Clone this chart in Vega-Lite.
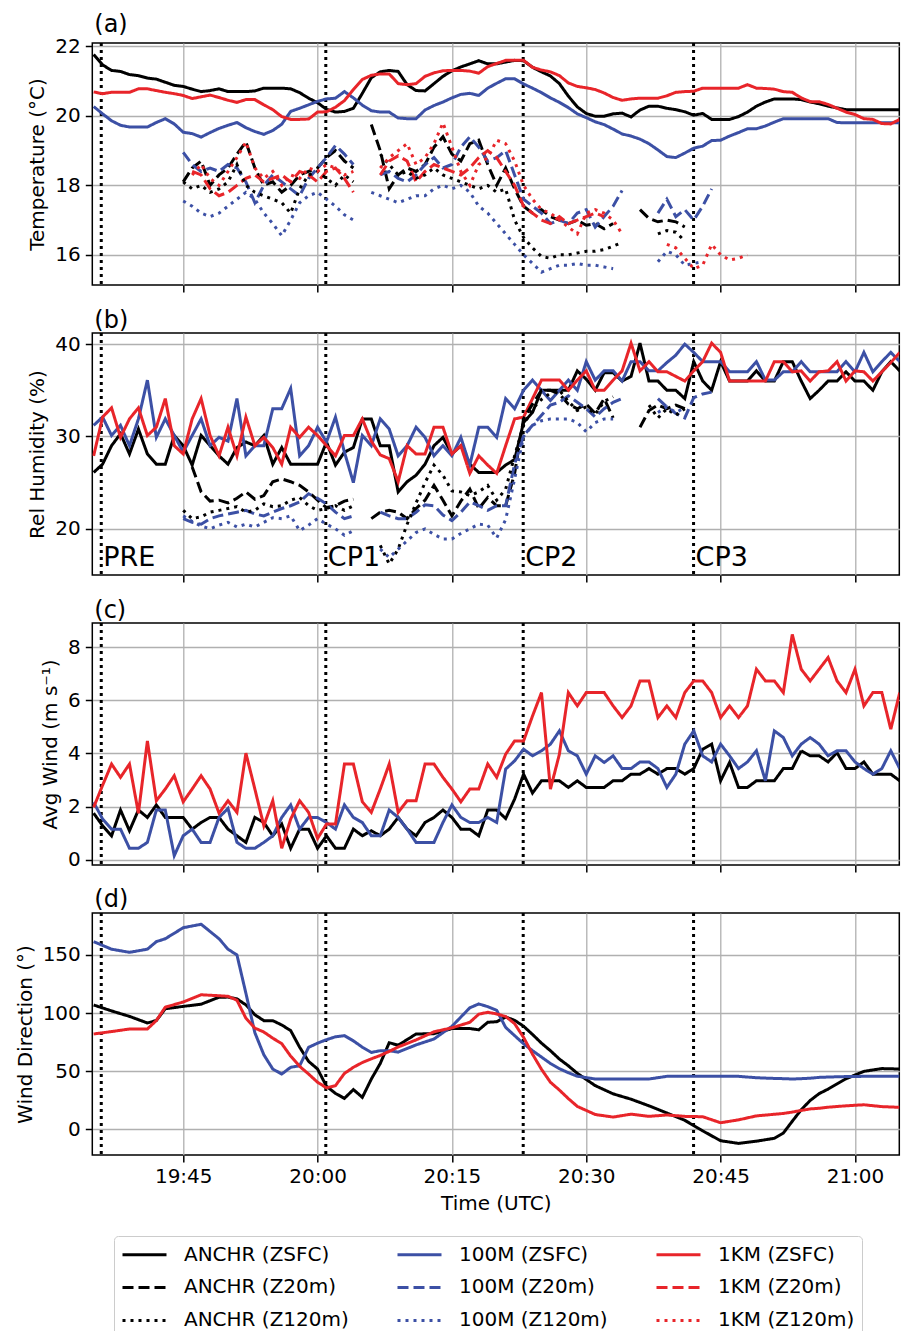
{
"$schema": "https://vega.github.io/schema/vega-lite/v6.json",
"background": "white",
"padding": {"left": 14.3, "top": 12, "right": 5, "bottom": 0},
"bounds": "flush",
"spacing": 48,
"datasets": {
"names": [{"k":"A","s":"ANCHR (ZSFC)"},{"k":"B","s":"100M (ZSFC)"},{"k":"C","s":"1KM (ZSFC)"},{"k":"A2","s":"ANCHR (Z20m)"},{"k":"B2","s":"100M (Z20m)"},{"k":"C2","s":"1KM (Z20m)"},{"k":"A1","s":"ANCHR (Z120m)"},{"k":"B1","s":"100M (Z120m)"},{"k":"C1","s":"1KM (Z120m)"}],
"marks": [{"t":35.85,"lab":"PRE"},{"t":60.92,"lab":"CP1"},{"t":82.96,"lab":"CP2"},{"t":101.98,"lab":"CP3"}],
"ta": [
{"t":35,"A":21.77,"B":20.27,"C":20.69},
{"t":36,"A":21.47,"B":20.06,"C":20.64},
{"t":37,"A":21.31,"B":19.86,"C":20.68},
{"t":38,"A":21.28,"B":19.73,"C":20.68},
{"t":39,"A":21.19,"B":19.68,"C":20.68},
{"t":40,"A":21.16,"B":19.68,"C":20.78},
{"t":41,"A":21.09,"B":19.68,"C":20.78},
{"t":42,"A":21.06,"B":19.81,"C":20.73},
{"t":43,"A":20.97,"B":19.92,"C":20.68},
{"t":44,"A":20.88,"B":19.77,"C":20.64},
{"t":45,"A":20.85,"B":19.53,"C":20.59,"A2":18.1,"A1":18.1,"B2":18.95,"B1":17.55},
{"t":46,"A":20.77,"B":19.49,"C":20.5,"A2":18.5,"A1":17.9,"B2":18.6,"B1":17.4,"C2":18.4,"C1":18.3},
{"t":47,"A":20.7,"B":19.39,"C":20.55,"A2":18.7,"A1":18.0,"B2":18.4,"B1":17.2,"C2":18.3,"C1":18.6},
{"t":48,"A":20.73,"B":19.52,"C":20.6,"A2":18.0,"A1":17.8,"B2":18.5,"B1":17.1,"C2":17.9,"C1":18.2},
{"t":49,"A":20.78,"B":19.64,"C":20.53,"A2":18.3,"A1":17.9,"B2":18.4,"B1":17.2,"C2":17.7,"C1":18.0},
{"t":50,"A":20.7,"B":19.73,"C":20.45,"A2":18.5,"A1":18.1,"B2":18.6,"B1":17.4,"C2":17.8,"C1":18.4},
{"t":51,"A":20.7,"B":19.81,"C":20.39,"A2":18.9,"A1":18.6,"B2":18.5,"B1":17.6,"C2":18.0,"C1":18.8},
{"t":52,"A":20.7,"B":19.66,"C":20.47,"A2":19.25,"A1":18.0,"B2":18.1,"B1":17.8,"C2":18.2,"C1":19.25},
{"t":53,"A":20.72,"B":19.55,"C":20.47,"A2":18.5,"A1":17.8,"B2":17.5,"B1":17.6,"C2":18.3,"C1":18.5},
{"t":54,"A":20.8,"B":19.47,"C":20.32,"A2":18.0,"A1":17.7,"B2":18.0,"B1":17.2,"C2":18.1,"C1":18.2},
{"t":55,"A":20.8,"B":19.58,"C":20.18,"A2":18.1,"A1":17.6,"B2":18.3,"B1":16.9,"C2":18.2,"C1":18.4},
{"t":56,"A":20.8,"B":19.76,"C":19.98,"A2":17.8,"A1":17.5,"B2":18.1,"B1":16.55,"C2":18.3,"C1":18.0},
{"t":57,"A":20.78,"B":20.13,"C":19.9,"A2":18.0,"A1":17.2,"B2":17.9,"B1":17.0,"C2":18.1,"C1":18.3},
{"t":58,"A":20.67,"B":20.22,"C":19.9,"A2":18.3,"A1":17.9,"B2":17.7,"B1":17.5,"C2":18.4,"C1":18.2},
{"t":59,"A":20.51,"B":20.32,"C":19.91,"A2":18.4,"A1":18.3,"B2":18.2,"B1":17.7,"C2":18.3,"C1":18.5},
{"t":60,"A":20.38,"B":20.42,"C":20.11,"A2":18.5,"A1":18.4,"B2":18.5,"B1":17.8,"C2":18.1,"C1":18.4},
{"t":61,"A":20.19,"B":20.49,"C":20.12,"A2":18.8,"A1":18.2,"B2":18.8,"B1":17.6,"C2":18.4,"C1":18.6},
{"t":62,"A":20.11,"B":20.51,"C":20.25,"A2":19.0,"A1":18.0,"B2":19.15,"B1":17.4,"C2":18.5,"C1":18.5},
{"t":63,"A":20.13,"B":20.7,"C":20.44,"A2":18.7,"A1":18.3,"B2":18.9,"B1":17.15,"C2":18.2,"C1":18.3},
{"t":64,"A":20.22,"B":20.52,"C":20.76,"A2":18.5,"A1":18.1,"B2":18.6,"B1":17.0,"C2":17.8,"C1":18.4},
{"t":65,"A":20.65,"B":20.31,"C":21.05},
{"t":66,"A":21.1,"B":20.15,"C":21.17,"A2":19.75,"B1":17.8},
{"t":67,"A":21.27,"B":20.11,"C":21.21,"A2":19.0,"A1":18.9,"B2":18.3,"B1":17.7,"C2":18.3,"C1":18.5},
{"t":68,"A":21.31,"B":20.11,"C":21.21,"A2":17.9,"A1":18.6,"B2":18.4,"B1":17.6,"C2":18.7,"C1":18.8},
{"t":69,"A":21.28,"B":19.94,"C":20.93,"A2":18.3,"A1":18.3,"B2":18.2,"B1":17.5,"C2":18.85,"C1":19.0},
{"t":70,"A":20.9,"B":19.92,"C":20.9,"A2":18.5,"A1":18.4,"B2":18.1,"B1":17.6,"C2":18.7,"C1":19.2},
{"t":71,"A":20.73,"B":19.92,"C":20.93,"A2":18.4,"A1":18.2,"B2":18.3,"B1":17.7,"C2":18.1,"C1":18.6},
{"t":72,"A":20.72,"B":20.17,"C":21.14,"A2":18.6,"A1":18.3,"B2":18.6,"B1":17.7,"C2":18.4,"C1":18.8},
{"t":73,"A":20.93,"B":20.3,"C":21.24,"A2":19.1,"A1":18.5,"B2":18.8,"B1":17.9,"C2":18.6,"C1":19.2},
{"t":74,"A":21.14,"B":20.4,"C":21.3,"A2":19.4,"A1":18.3,"B2":18.5,"B1":18.0,"C2":18.5,"C1":19.8},
{"t":75,"A":21.3,"B":20.52,"C":21.31,"A2":18.9,"A1":18.2,"B2":18.6,"B1":17.9,"C2":18.4,"C1":19.1},
{"t":76,"A":21.41,"B":20.62,"C":21.31,"A2":18.7,"A1":18.1,"B2":19.1,"B1":18.0,"C2":18.3,"C1":18.4},
{"t":77,"A":21.5,"B":20.65,"C":21.29,"A2":19.2,"A1":18.0,"B2":19.4,"B1":17.8,"C2":18.5,"C1":18.0},
{"t":78,"A":21.59,"B":20.59,"C":21.23,"A2":19.3,"A1":17.9,"B2":19.1,"B1":17.4,"C2":18.8,"C1":18.6},
{"t":79,"A":21.5,"B":20.8,"C":21.42,"A2":18.6,"A1":18.0,"B2":18.7,"B1":17.2,"C2":19.0,"C1":18.8},
{"t":80,"A":21.5,"B":20.94,"C":21.51,"A2":18.0,"A1":17.8,"B2":18.8,"B1":16.9,"C2":18.8,"C1":19.3},
{"t":81,"A":21.55,"B":21.07,"C":21.6,"A2":18.5,"A1":17.9,"B2":19.0,"B1":16.6,"C2":18.4,"C1":19.2},
{"t":82,"A":21.6,"B":21.07,"C":21.6,"A2":17.9,"A1":17.0,"B2":18.3,"B1":16.3,"C2":18.0,"C1":18.7},
{"t":83,"A":21.59,"B":20.92,"C":21.6,"A2":17.4,"A1":16.5,"B2":17.6,"B1":16.0,"C2":17.4,"C1":18.0},
{"t":84,"A":21.4,"B":20.8,"C":21.4,"A2":17.2,"A1":16.2,"B2":17.4,"B1":15.75,"C2":17.2,"C1":17.6},
{"t":85,"A":21.27,"B":20.67,"C":21.32,"A2":17.3,"A1":15.95,"B2":17.2,"B1":15.5,"C2":17.0,"C1":17.3},
{"t":86,"A":21.15,"B":20.52,"C":21.27,"A2":17.1,"A1":15.9,"B2":16.9,"B1":15.6,"C2":16.9,"C1":17.2},
{"t":87,"A":20.93,"B":20.39,"C":21.16,"A2":17.0,"A1":16.0,"B2":17.0,"B1":15.7,"C2":17.1,"C1":17.0},
{"t":88,"A":20.57,"B":20.24,"C":20.95,"A2":16.9,"A1":16.0,"B2":16.9,"B1":15.7,"C2":16.9,"C1":16.8},
{"t":89,"A":20.26,"B":20.06,"C":20.85,"A2":17.0,"A1":16.05,"B2":17.2,"B1":15.75,"C2":17.0,"C1":16.6},
{"t":90,"A":20.07,"B":19.95,"C":20.81,"A2":16.85,"A1":16.1,"B2":17.3,"B1":15.7,"C2":17.1,"C1":17.2},
{"t":91,"A":19.99,"B":19.83,"C":20.76,"A2":16.9,"A1":16.1,"B2":16.8,"B1":15.7,"C2":17.2,"C1":17.3},
{"t":92,"A":19.99,"B":19.75,"C":20.66,"A2":16.75,"A1":16.15,"B2":17.1,"B1":15.65,"C2":17.1,"C1":17.2},
{"t":93,"A":20.06,"B":19.62,"C":20.53,"A2":16.9,"A1":16.25,"B2":17.4,"B1":15.6,"C1":17.0},
{"t":94,"A":20.08,"B":19.48,"C":20.45,"A1":16.35,"B2":17.85,"C1":16.6},
{"t":95,"A":19.97,"B":19.42,"C":20.49},
{"t":96,"A":20.17,"B":19.33,"C":20.51,"A2":17.3},
{"t":97,"A":20.28,"B":19.2,"C":20.51,"A2":17.05},
{"t":98,"A":20.28,"B":19.02,"C":20.51,"A2":16.95,"A1":16.6,"B2":17.2,"B1":15.8},
{"t":99,"A":20.22,"B":18.83,"C":20.58,"A2":17.0,"A1":16.7,"B2":17.6,"B1":16.1,"C1":16.3},
{"t":100,"A":20.18,"B":18.8,"C":20.68,"A2":16.95,"A1":16.65,"B2":17.1,"B1":16.0,"C1":16.2},
{"t":101,"A":20.12,"B":18.93,"C":20.7,"A2":16.8,"A1":16.4,"B2":17.3,"B1":15.7,"C1":15.9},
{"t":102,"A":20.02,"B":19.07,"C":20.71,"B2":17.0,"B1":15.75,"C1":15.6},
{"t":103,"A":20.07,"B":19.13,"C":20.8,"B2":17.4,"B1":15.8,"C1":15.7},
{"t":104,"A":19.9,"B":19.29,"C":20.8,"B2":17.9,"C1":16.3},
{"t":105,"A":19.9,"B":19.3,"C":20.8,"C1":16.0},
{"t":106,"A":19.9,"B":19.42,"C":20.8,"C1":15.85},
{"t":107,"A":19.98,"B":19.52,"C":20.8,"C1":15.9},
{"t":108,"A":20.11,"B":19.63,"C":20.9,"C1":16.0},
{"t":109,"A":20.28,"B":19.63,"C":20.8},
{"t":110,"A":20.4,"B":19.71,"C":20.79},
{"t":111,"A":20.49,"B":19.82,"C":20.77},
{"t":112,"A":20.49,"B":19.92,"C":20.7},
{"t":113,"A":20.49,"B":19.92,"C":20.68},
{"t":114,"A":20.47,"B":19.92,"C":20.52},
{"t":115,"A":20.4,"B":19.92,"C":20.41},
{"t":116,"A":20.35,"B":19.92,"C":20.41},
{"t":117,"A":20.28,"B":19.92,"C":20.33},
{"t":118,"A":20.23,"B":19.81,"C":20.22},
{"t":119,"A":20.18,"B":19.8,"C":20.11},
{"t":120,"A":20.18,"B":19.8,"C":20.04},
{"t":121,"A":20.18,"B":19.8,"C":19.92},
{"t":122,"A":20.18,"B":19.8,"C":19.9},
{"t":123,"A":20.18,"B":19.8,"C":19.78},
{"t":124,"A":20.18,"B":19.8,"C":19.77},
{"t":125,"A":20.18,"B":19.8,"C":19.9}
],
"rh": [
{"t":35,"A":26.1,"B":31.2,"C":27.9},
{"t":36,"A":27.0,"B":32.1,"C":32.1},
{"t":37,"A":29.0,"B":30.1,"C":33.1},
{"t":38,"A":30.3,"B":31.2,"C":29.9},
{"t":39,"A":28.1,"B":29.0,"C":31.9},
{"t":40,"A":30.8,"B":31.9,"C":33.1},
{"t":41,"A":28.1,"B":36.1,"C":30.1},
{"t":42,"A":27.0,"B":29.9,"C":31.0},
{"t":43,"A":27.0,"B":31.9,"C":34.1},
{"t":44,"A":30.1,"B":30.1,"C":29.0},
{"t":45,"A":29.0,"B":28.3,"C":28.1,"A1":22.0,"B2":21.1,"B1":21.4},
{"t":46,"A":26.9,"B":30.1,"C":31.9,"A2":26.7,"A1":21.1,"B2":20.7,"B1":20.8},
{"t":47,"A":30.1,"B":31.9,"C":34.1,"A2":24.0,"A1":21.3,"B2":20.5,"B1":20.3},
{"t":48,"A":29.0,"B":29.0,"C":30.1,"A2":23.0,"A1":21.8,"B2":21.1,"B1":20.0},
{"t":49,"A":27.9,"B":29.9,"C":27.9,"A2":23.1,"A1":22.0,"B2":21.4,"B1":20.4},
{"t":50,"A":27.0,"B":29.5,"C":31.0,"A2":22.8,"A1":22.2,"B2":21.6,"B1":20.7},
{"t":51,"A":28.8,"B":34.1,"C":27.9,"A2":23.3,"A1":22.4,"B2":21.8,"B1":20.2},
{"t":52,"A":29.4,"B":27.9,"C":32.1,"A2":24.0,"A1":21.8,"B2":22.0,"B1":20.5},
{"t":53,"A":29.0,"B":29.0,"C":29.0,"A2":23.2,"A1":22.0,"B2":21.6,"B1":20.2},
{"t":54,"A":30.1,"B":29.0,"C":29.9,"A2":23.6,"A1":22.7,"B2":21.4,"B1":20.7},
{"t":55,"A":27.0,"B":33.0,"C":28.8,"A2":25.1,"A1":22.4,"B2":21.8,"B1":21.2},
{"t":56,"A":28.8,"B":33.0,"C":27.0,"A2":25.4,"A1":22.5,"B2":22.2,"B1":21.1},
{"t":57,"A":27.0,"B":35.2,"C":31.0,"A2":25.1,"A1":23.1,"B2":22.5,"B1":21.4},
{"t":58,"A":27.0,"B":27.9,"C":29.9,"A2":24.7,"A1":23.4,"B2":22.9,"B1":19.8},
{"t":59,"A":27.0,"B":29.0,"C":31.0,"A2":24.0,"A1":22.5,"B2":23.8,"B1":20.4},
{"t":60,"A":27.0,"B":31.0,"C":30.1,"A2":23.1,"A1":22.0,"B2":23.3,"B1":21.1},
{"t":61,"A":29.4,"B":29.4,"C":29.0,"A2":22.3,"A1":22.2,"B2":22.7,"B1":20.5},
{"t":62,"A":26.9,"B":32.1,"C":27.9,"A2":22.5,"A1":22.5,"B2":21.8,"B1":20.0},
{"t":63,"A":28.3,"B":28.3,"C":30.1,"A2":23.0,"A1":22.0,"B2":21.1,"B1":19.3},
{"t":64,"A":28.8,"B":25.0,"C":30.1,"A2":23.2,"A1":22.5,"B2":21.4,"B1":19.8},
{"t":65,"A":31.9,"B":30.1,"C":31.9},
{"t":66,"A":31.9,"B":29.0,"C":29.5,"A2":21.1},
{"t":67,"A":29.0,"B":31.9,"C":28.0,"A2":21.8,"A1":18.2,"B2":21.8,"B1":17.8},
{"t":68,"A":29.0,"B":30.8,"C":27.6,"A2":22.0,"A1":16.2,"B2":21.4,"B1":16.9},
{"t":69,"A":24.0,"B":27.9,"C":25.1,"A2":21.8,"A1":17.8,"B2":21.1,"B1":17.8},
{"t":70,"A":25.1,"B":29.0,"C":29.0,"A2":21.1,"A1":20.5,"B2":21.1,"B1":18.7},
{"t":71,"A":25.8,"B":31.0,"C":28.1,"A2":22.2,"A1":22.8,"B2":21.8,"B1":19.6},
{"t":72,"A":27.0,"B":29.9,"C":28.1,"A2":23.1,"A1":25.0,"B2":22.6,"B1":20.0},
{"t":73,"A":29.0,"B":27.9,"C":31.0,"A2":24.7,"A1":26.9,"B2":22.5,"B1":19.4},
{"t":74,"A":29.9,"B":29.0,"C":31.0,"A2":23.1,"A1":25.8,"B2":21.5,"B1":18.9},
{"t":75,"A":28.1,"B":27.9,"C":28.1,"A2":21.4,"A1":24.1,"B2":20.9,"B1":18.9},
{"t":76,"A":29.0,"B":29.9,"C":29.0,"A2":23.0,"A1":24.0,"B2":21.8,"B1":19.5},
{"t":77,"A":27.0,"B":26.9,"C":26.0,"A2":24.3,"A1":23.6,"B2":22.9,"B1":20.0},
{"t":78,"A":26.1,"B":31.0,"C":27.9,"A2":22.2,"A1":24.0,"B2":22.5,"B1":20.5},
{"t":79,"A":26.1,"B":31.0,"C":26.9,"A2":23.4,"A1":24.7,"B2":22.0,"B1":20.4},
{"t":80,"A":26.1,"B":29.9,"C":26.0,"A2":22.5,"A1":23.1,"B2":22.5,"B1":19.0},
{"t":81,"A":26.9,"B":34.1,"C":29.0,"A2":22.5,"A1":24.3,"B2":22.5,"B1":21.0},
{"t":82,"A":27.5,"B":33.0,"C":31.9,"A2":26.0,"A1":27.9,"B2":27.0,"B1":25.4},
{"t":83,"A":31.5,"B":35.0,"C":32.1,"A2":31.9,"A1":31.2,"B2":30.1,"B1":30.0},
{"t":84,"A":32.6,"B":36.1,"C":34.1,"A2":33.5,"A1":33.0,"B2":31.2,"B1":31.2},
{"t":85,"A":35.0,"B":35.0,"C":36.1,"A2":35.0,"A1":34.0,"B2":32.3,"B1":31.7},
{"t":86,"A":35.0,"B":33.9,"C":36.1,"A2":35.0,"A1":34.7,"B2":33.4,"B1":31.9},
{"t":87,"A":35.0,"B":35.0,"C":36.1,"A2":34.6,"A1":35.0,"B2":33.7,"B1":31.9},
{"t":88,"A":35.0,"B":36.1,"C":35.0,"A2":33.5,"A1":33.8,"B2":34.4,"B1":31.9},
{"t":89,"A":37.1,"B":35.0,"C":36.1,"A2":33.0,"A1":32.8,"B2":33.7,"B1":31.5},
{"t":90,"A":36.2,"B":38.1,"C":37.1,"A2":33.5,"A1":33.2,"B2":33.0,"B1":30.5},
{"t":91,"A":35.0,"B":36.1,"C":35.0,"A2":32.5,"A1":32.4,"B2":32.1,"B1":31.5},
{"t":92,"A":36.9,"B":37.1,"C":35.0,"A2":34.1,"A1":33.8,"B2":33.0,"B1":31.9},
{"t":93,"A":36.9,"B":37.1,"C":36.1,"A2":32.0,"A1":34.3,"B2":33.7,"B1":31.9},
{"t":94,"A":36.0,"B":36.0,"C":37.1,"B2":34.1},
{"t":95,"A":36.5,"B":38.1,"C":40.1},
{"t":96,"A":40.1,"B":38.1,"C":37.1,"A2":31.0},
{"t":97,"A":36.0,"B":37.1,"C":38.1,"A2":32.8,"A1":33.4},
{"t":98,"A":36.0,"B":37.1,"C":37.0,"A2":33.4,"A1":32.0,"B2":34.1,"B1":32.6},
{"t":99,"A":35.0,"B":38.0,"C":37.0,"A2":33.0,"A1":33.0,"B2":33.2,"B1":33.2},
{"t":100,"A":35.0,"B":38.8,"C":36.5,"A2":33.4,"A1":32.3,"B2":32.5,"B1":32.6},
{"t":101,"A":34.1,"B":40.0,"C":36.0,"A2":33.0,"A1":33.0,"B2":32.0,"B1":33.1},
{"t":102,"A":38.1,"B":39.1,"C":37.1,"B2":34.2},
{"t":103,"A":36.0,"B":38.1,"C":38.1,"B2":34.6},
{"t":104,"A":35.0,"B":38.1,"C":40.1,"B2":34.8},
{"t":105,"A":38.1,"B":38.1,"C":39.1},
{"t":106,"A":36.0,"B":37.0,"C":36.0},
{"t":107,"A":36.0,"B":37.0,"C":36.0},
{"t":108,"A":36.0,"B":37.0,"C":36.0},
{"t":109,"A":37.1,"B":38.1,"C":36.0},
{"t":110,"A":36.0,"B":36.1,"C":36.0},
{"t":111,"A":36.0,"B":36.1,"C":38.1},
{"t":112,"A":38.1,"B":37.0,"C":38.1},
{"t":113,"A":38.1,"B":37.0,"C":37.0},
{"t":114,"A":36.0,"B":38.1,"C":37.1},
{"t":115,"A":34.1,"B":37.0,"C":36.0},
{"t":116,"A":35.0,"B":37.0,"C":37.0},
{"t":117,"A":36.0,"B":37.0,"C":37.1},
{"t":118,"A":36.0,"B":37.0,"C":38.1},
{"t":119,"A":37.0,"B":38.1,"C":36.0},
{"t":120,"A":36.0,"B":37.0,"C":37.1},
{"t":121,"A":36.0,"B":39.1,"C":37.0},
{"t":122,"A":35.0,"B":37.0,"C":36.0},
{"t":123,"A":37.0,"B":38.1,"C":37.0},
{"t":124,"A":38.1,"B":39.1,"C":38.0},
{"t":125,"A":37.1,"B":38.1,"C":39.1}
],
"ws": [
{"t":35,"A":1.75,"B":2.16,"C":1.97},{"t":36,"A":1.28,"B":1.53,"C":2.8},{"t":37,"A":0.9,"B":1.15,"C":3.6},{"t":38,"A":1.87,"B":1.15,"C":3.1},{"t":39,"A":1.09,"B":0.43,"C":3.6},
{"t":40,"A":1.87,"B":0.43,"C":1.75},{"t":41,"A":1.59,"B":0.65,"C":4.47},{"t":42,"A":2.06,"B":1.87,"C":2.22},{"t":43,"A":1.59,"B":1.87,"C":2.66},{"t":44,"A":1.59,"B":0.15,"C":3.16},
{"t":45,"A":1.59,"B":0.9,"C":2.18},{"t":46,"A":1.15,"B":1.15,"C":2.66},{"t":47,"A":1.4,"B":0.65,"C":3.16},{"t":48,"A":1.59,"B":0.65,"C":2.66},{"t":49,"A":1.59,"B":1.59,"C":1.75},
{"t":50,"A":1.15,"B":1.93,"C":2.22},{"t":51,"A":0.9,"B":0.65,"C":1.78},{"t":52,"A":0.65,"B":0.43,"C":4.01},{"t":53,"A":1.59,"B":0.43,"C":2.66},{"t":54,"A":1.4,"B":0.65,"C":1.28},
{"t":55,"A":0.9,"B":0.9,"C":2.22},{"t":56,"A":1.34,"B":1.59,"C":0.43},{"t":57,"A":0.43,"B":2.06,"C":1.53},{"t":58,"A":1.15,"B":1.15,"C":2.22},{"t":59,"A":1.15,"B":1.59,"C":1.78},
{"t":60,"A":0.43,"B":1.59,"C":0.8},{"t":61,"A":0.9,"B":1.4,"C":1.34},{"t":62,"A":0.43,"B":1.15,"C":1.34},{"t":63,"A":0.43,"B":2.06,"C":3.6},{"t":64,"A":1.15,"B":1.59,"C":3.6},
{"t":65,"A":0.9,"B":1.4,"C":2.18},{"t":66,"A":1.09,"B":0.9,"C":1.78},{"t":67,"A":0.9,"B":0.9,"C":2.66},{"t":68,"A":1.15,"B":1.87,"C":3.6},{"t":69,"A":1.59,"B":1.59,"C":1.78},
{"t":70,"A":1.15,"B":1.15,"C":2.22},{"t":71,"A":0.9,"B":0.65,"C":2.22},{"t":72,"A":1.4,"B":0.65,"C":3.6},{"t":73,"A":1.59,"B":0.65,"C":3.6},{"t":74,"A":1.87,"B":1.4,"C":3.1},
{"t":75,"A":1.59,"B":2.06,"C":2.66},{"t":76,"A":1.15,"B":1.59,"C":2.18},{"t":77,"A":1.15,"B":1.4,"C":2.66},{"t":78,"A":0.9,"B":1.4,"C":2.66},{"t":79,"A":1.87,"B":1.59,"C":3.6},
{"t":80,"A":1.87,"B":1.4,"C":3.1},{"t":81,"A":1.55,"B":3.41,"C":3.97},{"t":82,"A":2.28,"B":3.72,"C":4.47},{"t":83,"A":3.22,"B":4.16,"C":4.47},{"t":84,"A":2.51,"B":3.91,"C":5.41},
{"t":85,"A":2.97,"B":4.1,"C":6.29},{"t":86,"A":2.97,"B":4.35,"C":2.66},{"t":87,"A":2.97,"B":4.85,"C":3.97},{"t":88,"A":2.72,"B":4.1,"C":6.29},{"t":89,"A":2.97,"B":3.91,"C":5.79},
{"t":90,"A":2.72,"B":3.22,"C":6.29},{"t":91,"A":2.72,"B":3.91,"C":6.29},{"t":92,"A":2.72,"B":3.66,"C":6.29},{"t":93,"A":2.97,"B":3.91,"C":5.79},{"t":94,"A":2.97,"B":3.43,"C":5.35},
{"t":95,"A":3.22,"B":3.43,"C":5.79},{"t":96,"A":3.22,"B":3.68,"C":6.73},{"t":97,"A":3.43,"B":3.68,"C":6.73},{"t":98,"A":3.22,"B":3.43,"C":5.35},{"t":99,"A":3.43,"B":2.72,"C":5.79},
{"t":100,"A":3.43,"B":3.22,"C":5.35},{"t":101,"A":3.22,"B":4.35,"C":6.29},{"t":102,"A":3.43,"B":4.85,"C":6.73},{"t":103,"A":4.16,"B":3.91,"C":6.73},{"t":104,"A":4.35,"B":3.68,"C":6.29},
{"t":105,"A":2.97,"B":4.35,"C":5.35},{"t":106,"A":3.66,"B":3.91,"C":5.79},{"t":107,"A":2.72,"B":3.43,"C":5.35},{"t":108,"A":2.72,"B":3.68,"C":5.79},{"t":109,"A":2.97,"B":4.1,"C":7.17},
{"t":110,"A":2.97,"B":2.97,"C":6.73},{"t":111,"A":2.97,"B":4.85,"C":6.73},{"t":112,"A":3.43,"B":4.6,"C":6.29},{"t":113,"A":3.43,"B":3.91,"C":8.48},{"t":114,"A":4.1,"B":4.35,"C":7.17},
{"t":115,"A":3.91,"B":4.6,"C":6.73},{"t":116,"A":3.91,"B":4.35,"C":7.17},{"t":117,"A":3.68,"B":3.91,"C":7.61},{"t":118,"A":4.03,"B":4.1,"C":6.73},{"t":119,"A":3.43,"B":4.1,"C":6.29},
{"t":120,"A":3.43,"B":3.68,"C":7.17},{"t":121,"A":3.68,"B":3.43,"C":5.79},{"t":122,"A":3.22,"B":3.22,"C":6.29},{"t":123,"A":3.22,"B":3.43,"C":6.29},{"t":124,"A":3.22,"B":4.1,"C":4.91},
{"t":125,"A":2.97,"B":3.43,"C":6.29}
],
"wd": [
{"t":35,"A":106.9,"B":161.5,"C":81.9},{"t":37,"A":101.8,"B":155,"C":84},{"t":39,"A":97.1,"B":152.3,"C":86.2},{"t":41,"A":91.4,"B":155,"C":86.2},{"t":42,"A":93.5,"B":161.5,"C":93.5},
{"t":43,"A":103.7,"B":164,"C":105},{"t":45,"A":105.7,"B":173.5,"C":109.5},{"t":47,"A":107.6,"B":176.5,"C":115.7},{"t":49,"A":113.6,"B":164,"C":114.9},{"t":50,"A":113.7,"B":155,"C":114.4},
{"t":51,"A":112.2,"B":150,"C":111},{"t":52,"A":107,"B":117,"C":95.5},{"t":53,"A":98.5,"B":83,"C":87},{"t":54,"A":93.4,"B":64,"C":83.6},{"t":55,"A":93.4,"B":51.7,"C":78.3},
{"t":56,"A":89.7,"B":47.4,"C":73.6},{"t":57,"A":84.8,"B":53.2,"C":62.8},{"t":58,"A":70.5,"B":54.5,"C":54},{"t":59,"A":58.3,"B":70.4,"C":47.4},{"t":60,"A":51.7,"B":74,"C":40.3},
{"t":61,"A":36.8,"B":77,"C":35.5},{"t":62,"A":30.7,"B":79.5,"C":37.4},{"t":63,"A":26.4,"B":80.5,"C":47.9},{"t":64,"A":34,"B":76,"C":53.2},{"t":65,"A":27.3,"B":70.5,"C":57.3},
{"t":66,"A":43,"B":66,"C":60.5},{"t":67,"A":56.5,"B":67.5,"C":63.4},{"t":68,"A":74.4,"B":67.5,"C":66.9},{"t":69,"A":72.2,"B":66.3,"C":70.7},{"t":71,"A":81.9,"B":72.5,"C":76.8},
{"t":73,"A":82.2,"B":77.6,"C":83.8},{"t":75,"A":86.6,"B":88.5,"C":87.2},{"t":77,"A":86.6,"B":104.5,"C":92},{"t":78,"A":85.5,"B":107.8,"C":99},{"t":79,"A":92,"B":105.5,"C":100.6},
{"t":80,"A":92.5,"B":102.3,"C":99.2},{"t":81,"A":96.5,"B":87.6,"C":97},{"t":82,"A":93.7,"B":80.5,"C":90.8},{"t":83,"A":88.6,"B":73.5,"C":79},{"t":84,"A":81.5,"B":67.5,"C":64.5},
{"t":85,"A":74,"B":62,"C":51.5},{"t":86,"A":67.5,"B":56.5,"C":40.3},{"t":87,"A":60.3,"B":52,"C":33.6},{"t":88,"A":54.5,"B":48.5,"C":26.2},{"t":89,"A":48,"B":45.5,"C":19.5},
{"t":91,"A":37.4,"B":43.1,"C":12.5},{"t":93,"A":30.3,"B":43.1,"C":10.3},{"t":95,"A":25.7,"B":43.1,"C":12.8},{"t":97,"A":20,"B":43.1,"C":10.9},{"t":99,"A":13.8,"B":45.4,"C":12.1},
{"t":101,"A":7.5,"B":45.4,"C":10.9},{"t":103,"A":-1.6,"B":45.4,"C":10.6},{"t":105,"A":-10.1,"B":45.4,"C":5.4},{"t":107,"A":-12.4,"B":45.4,"C":7.9},{"t":109,"A":-10.5,"B":44.2,"C":11.3},
{"t":111,"A":-8.0,"B":43.6,"C":12.7},{"t":112,"A":-3.5,"B":43.4,"C":13.4},{"t":113,"A":6.7,"B":43.1,"C":14.6},{"t":114,"A":16.6,"B":43.4,"C":16},{"t":115,"A":24.6,"B":43.8,"C":17.3},
{"t":116,"A":30.5,"B":44.5,"C":17.9},{"t":117,"A":34.4,"B":44.8,"C":18.8},{"t":119,"A":43.3,"B":45.2,"C":20},{"t":121,"A":49.7,"B":45.4,"C":20.9},{"t":123,"A":52.1,"B":45.4,"C":19.3},
{"t":125,"A":51.7,"B":45.4,"C":18.7}
]
},
"vconcat": [
{
"width": 807, "height": 242,
"title": {"text": "(a)"},
"layer": [
{"data": {"name": "marks"}, "mark": {"type": "rule", "color": "black", "strokeWidth": 3, "strokeDash": [3, 4]},
 "encoding": {"x": {"field": "t", "type": "quantitative"}}},
{"data": {"name": "ta"},
 "transform": [{"fold": ["A","B","C","A2","B2","C2","A1","B1","C1"], "as": ["k","v"]}, {"lookup": "k", "from": {"data": {"name": "names"}, "key": "k", "fields": ["s"]}}],
 "mark": {"type": "line", "strokeWidth": 3, "clip": true, "invalid": "break-paths-show-domains"},
 "encoding": {
  "x": {"field": "t", "type": "quantitative", "scale": {"domain": [34.85, 124.95], "nice": false, "zero": false}, "axis": {"values": [45,60,75,90,105,120], "labels": false, "title": null}},
  "y": {"field": "v", "type": "quantitative", "scale": {"domain": [15.13, 22.1], "nice": false, "zero": false}, "axis": {"values": [16,18,20,22], "title": "Temperature (°C)"}},
  "color": {"field": "s", "type": "nominal", "title": null, "legend": {"symbolType": "M-1,0H3.4"},
   "scale": {"domain": ["ANCHR (ZSFC)","ANCHR (Z20m)","ANCHR (Z120m)","100M (ZSFC)","100M (Z20m)","100M (Z120m)","1KM (ZSFC)","1KM (Z20m)","1KM (Z120m)"], "range": ["#000000","#000000","#000000","#3c50a5","#3c50a5","#3c50a5","#e8252a","#e8252a","#e8252a"]}},
  "strokeDash": {"field": "s", "type": "nominal", "title": null, "legend": {"symbolType": "M-1,0H3.4"},
   "scale": {"domain": ["ANCHR (ZSFC)","ANCHR (Z20m)","ANCHR (Z120m)","100M (ZSFC)","100M (Z20m)","100M (Z120m)","1KM (ZSFC)","1KM (Z20m)","1KM (Z120m)"], "range": [[1,0],[11,5],[3,5],[1,0],[11,5],[3,5],[1,0],[11,5],[3,5]]}}
 }}
]
},
{
"width": 807, "height": 242,
"title": {"text": "(b)"},
"layer": [
{"data": {"name": "marks"}, "mark": {"type": "rule", "color": "black", "strokeWidth": 3, "strokeDash": [3, 4]},
 "encoding": {"x": {"field": "t", "type": "quantitative"}}},
{"data": {"name": "rh"},
 "transform": [{"fold": ["A","B","C","A2","B2","A1","B1"], "as": ["k","v"]}, {"lookup": "k", "from": {"data": {"name": "names"}, "key": "k", "fields": ["s"]}}],
 "mark": {"type": "line", "strokeWidth": 3, "clip": true, "invalid": "break-paths-show-domains"},
 "encoding": {
  "x": {"field": "t", "type": "quantitative", "scale": {"domain": [34.85, 124.95], "nice": false, "zero": false}, "axis": {"values": [45,60,75,90,105,120], "labels": false, "title": null}},
  "y": {"field": "v", "type": "quantitative", "scale": {"domain": [15.0, 41.2], "nice": false, "zero": false}, "axis": {"values": [20,30,40], "title": "Rel Humidity (%)"}},
  "color": {"field": "s", "type": "nominal", "title": null, "legend": {"symbolType": "M-1,0H3.4"}},
  "strokeDash": {"field": "s", "type": "nominal", "title": null, "legend": {"symbolType": "M-1,0H3.4"}}
 }},
{"data": {"name": "marks"}, "mark": {"type": "text", "align": "left", "baseline": "alphabetic", "dx": 2, "fontSize": 27, "font": "DejaVu Sans", "color": "black"},
 "encoding": {"x": {"field": "t", "type": "quantitative"}, "y": {"datum": 16.0}, "text": {"field": "lab"}}}
]
},
{
"width": 807, "height": 242,
"title": {"text": "(c)"},
"layer": [
{"data": {"name": "marks"}, "mark": {"type": "rule", "color": "black", "strokeWidth": 3, "strokeDash": [3, 4]},
 "encoding": {"x": {"field": "t", "type": "quantitative"}}},
{"data": {"name": "ws"},
 "transform": [{"fold": ["A","B","C"], "as": ["k","v"]}, {"lookup": "k", "from": {"data": {"name": "names"}, "key": "k", "fields": ["s"]}}],
 "mark": {"type": "line", "strokeWidth": 3, "clip": true, "invalid": "break-paths-show-domains"},
 "encoding": {
  "x": {"field": "t", "type": "quantitative", "scale": {"domain": [34.85, 124.95], "nice": false, "zero": false}, "axis": {"values": [45,60,75,90,105,120], "labels": false, "title": null}},
  "y": {"field": "v", "type": "quantitative", "scale": {"domain": [-0.2, 8.91], "nice": false, "zero": false}, "axis": {"values": [0,2,4,6,8], "title": "Avg Wind (m s⁻¹)"}},
  "color": {"field": "s", "type": "nominal", "title": null, "legend": {"symbolType": "M-1,0H3.4"}},
  "strokeDash": {"field": "s", "type": "nominal", "title": null, "legend": {"symbolType": "M-1,0H3.4"}}
 }}
]
},
{
"width": 807, "height": 242,
"title": {"text": "(d)"},
"layer": [
{"data": {"name": "marks"}, "mark": {"type": "rule", "color": "black", "strokeWidth": 3, "strokeDash": [3, 4]},
 "encoding": {"x": {"field": "t", "type": "quantitative"}}},
{"data": {"name": "wd"},
 "transform": [{"fold": ["A","B","C"], "as": ["k","v"]}, {"lookup": "k", "from": {"data": {"name": "names"}, "key": "k", "fields": ["s"]}}],
 "mark": {"type": "line", "strokeWidth": 3, "clip": true, "invalid": "break-paths-show-domains"},
 "encoding": {
  "x": {"field": "t", "type": "quantitative", "scale": {"domain": [34.85, 124.95], "nice": false, "zero": false}, "axis": {"values": [45,60,75,90,105,120], "title": "Time (UTC)", "labelExpr": "(19 + floor(datum.value/60)) + ':' + (datum.value % 60 < 10 ? '0' : '') + (datum.value % 60)"}},
  "y": {"field": "v", "type": "quantitative", "scale": {"domain": [-22.4, 186.2], "nice": false, "zero": false}, "axis": {"values": [0,50,100,150], "title": "Wind Direction (°)"}},
  "color": {"field": "s", "type": "nominal", "title": null, "legend": {"symbolType": "M-1,0H3.4"}},
  "strokeDash": {"field": "s", "type": "nominal", "title": null, "legend": {"symbolType": "M-1,0H3.4"}}
 }}
]
}
],
"resolve": {"scale": {"color": "shared", "strokeDash": "shared"}},
"config": {
 "font": "DejaVu Sans",
 "view": {"stroke": "black", "strokeWidth": 1.5},
 "axis": {"labelFont": "DejaVu Sans", "titleFont": "DejaVu Sans", "labelFontSize": 20, "titleFontSize": 20, "titleFontWeight": "normal", "labelColor": "black", "titleColor": "black", "tickColor": "black", "tickSize": 7, "tickWidth": 1.5, "labelPadding": 5, "titlePadding": 7, "domain": false, "grid": true, "gridColor": "#b0b0b0", "gridWidth": 1.3},
 "title": {"fontSize": 24, "fontWeight": "normal", "anchor": "start", "frame": "group", "offset": -1, "dx": 2, "color": "black", "font": "DejaVu Sans"},
 "legend": {"orient": "none", "legendX": 21.7, "legendY": 1193, "columns": 3, "symbolSize": 400, "symbolStrokeWidth": 3, "labelFontSize": 20, "labelFont": "DejaVu Sans", "labelColor": "black", "labelOffset": 40, "labelLimit": 0, "columnPadding": 42, "rowPadding": 11, "padding": 7, "strokeColor": "#cccccc", "cornerRadius": 4, "fillColor": "white", "symbolLimit": 0}
}
}
